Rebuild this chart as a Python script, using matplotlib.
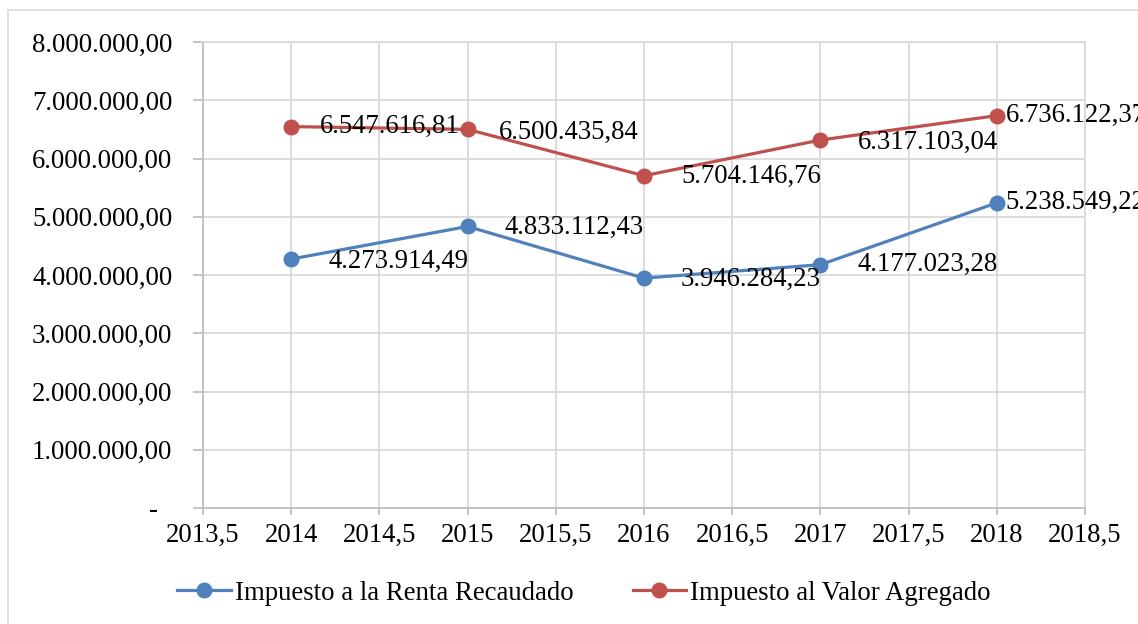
import matplotlib.pyplot as plt
from matplotlib.ticker import FuncFormatter, MultipleLocator
from matplotlib.patches import Rectangle
from matplotlib.transforms import ScaledTranslation

plt.rcParams['font.family'] = ['Liberation Serif', 'DejaVu Serif']

years = [2014, 2015, 2016, 2017, 2018]
renta = [4273914.49, 4833112.43, 3946284.23, 4177023.28, 5238549.22]
iva = [6547616.81, 6500435.84, 5704146.76, 6317103.04, 6736122.37]
name_renta = 'Impuesto a la Renta Recaudado'
name_iva = 'Impuesto al Valor Agregado'

blue = '#4f81bd'
red = '#c0504d'
fs = 19.3
# label offsets in pixels (right, down) relative to each point
off_renta = [(37, 2), (37, 1), (37, 1), (37, 0), (9, 0)]
off_iva = [(29, 0), (31, 3), (37, 1), (37, 2), (9, 0)]


def es_num(v, dec=2):
    s = f"{v:,.{dec}f}"
    return s.replace(',', 'X').replace('.', ',').replace('X', '.')


def y_fmt(v, pos):
    if abs(v) < 1:
        return '-'
    return es_num(v)


def x_fmt(v, pos):
    if abs(v - round(v)) < 1e-6:
        return str(int(round(v)))
    return f"{v:.1f}".replace('.', ',')


fig = plt.figure(figsize=(11.38, 6.24), dpi=100)
fig.patches.append(Rectangle((8 / 1138, -0.1), 1.2, 1 - 10 / 624 + 0.1,
                             transform=fig.transFigure, fill=False,
                             edgecolor='#d9d9d9', linewidth=1.2))
ax = fig.add_axes([203 / 1138, 1 - 508 / 624, (1085 - 203) / 1138, (508 - 42) / 624])

ax.plot(years, renta, color=blue, lw=2.3, marker='o', ms=10.5, label=name_renta, zorder=3)
ax.plot(years, iva, color=red, lw=2.3, marker='o', ms=10.5, label=name_iva, zorder=3)

for vals, offs in ((renta, off_renta), (iva, off_iva)):
    for x, y, (dx, dy) in zip(years, vals, offs):
        ax.annotate(es_num(y), (x, y), xytext=(dx * 0.72, -dy * 0.72),
                    textcoords='offset points', ha='left', va='center',
                    fontsize=fs, color='black', annotation_clip=False, zorder=4)

ax.set_xlim(2013.5, 2018.5)
ax.set_ylim(0, 8000000)
ax.xaxis.set_major_locator(MultipleLocator(0.5))
ax.yaxis.set_major_locator(MultipleLocator(1000000))
ax.xaxis.set_major_formatter(FuncFormatter(x_fmt))
ax.yaxis.set_major_formatter(FuncFormatter(y_fmt))

ax.grid(True, color='#d9d9d9', lw=1.3)
ax.set_axisbelow(True)
for s in ('top', 'right'):
    ax.spines[s].set_color('#d9d9d9')
    ax.spines[s].set_linewidth(1.3)
for s in ('left', 'bottom'):
    ax.spines[s].set_color('#bfbfbf')
    ax.spines[s].set_linewidth(1.3)

ax.tick_params(axis='y', length=7, width=1.3, color='#bfbfbf', pad=15, labelsize=fs)
ax.tick_params(axis='x', length=5, width=1.3, color='#bfbfbf', pad=6, labelsize=fs)

fig.canvas.draw()
for lab in ax.get_yticklabels():
    if lab.get_text() == '-':
        lab.set_transform(lab.get_transform() + ScaledTranslation(-14 / 100, 0, fig.dpi_scale_trans))

fig.legend(loc='center', bbox_to_anchor=(584 / 1138, 1 - 593 / 624), ncol=2,
           frameon=False, fontsize=fs, handlelength=2.0, handletextpad=0.15,
           columnspacing=2.2)

fig.savefig('out.png', dpi=100)
